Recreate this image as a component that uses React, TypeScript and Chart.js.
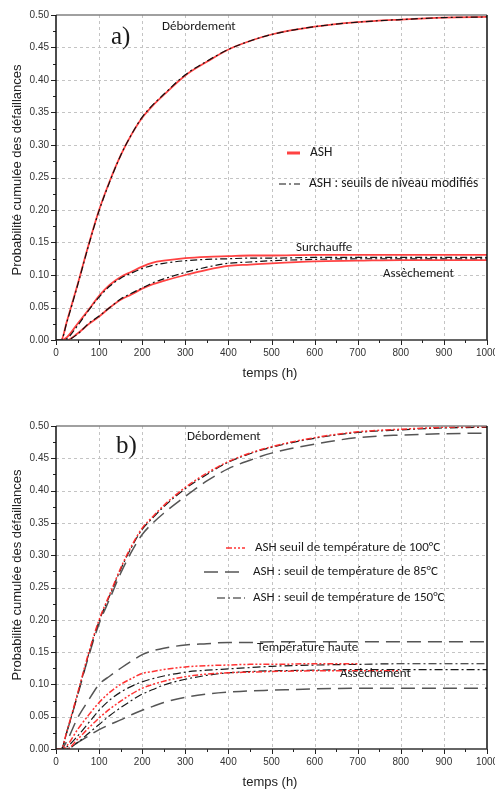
import React, { useEffect, useRef } from 'react';
import { Chart, registerables } from 'chart.js';

Chart.register(...registerables);

// ---------- DATA ----------
const TIMES = [0, 12, 25, 50, 75, 100, 125, 150, 175, 200, 225, 250, 300, 350, 400, 450, 500, 600, 700, 800, 900, 1000];

// Chart a)
const A_DEB_ASH = [0, 0, 0.028, 0.085, 0.145, 0.2, 0.245, 0.284, 0.316, 0.342, 0.361, 0.377, 0.407, 0.428, 0.447, 0.46, 0.47, 0.482, 0.489, 0.493, 0.496, 0.497];
const A_DEB_MOD = [0, 0, 0.027, 0.084, 0.144, 0.199, 0.244, 0.284, 0.316, 0.343, 0.362, 0.378, 0.408, 0.429, 0.447, 0.46, 0.47, 0.482, 0.489, 0.493, 0.496, 0.497];
const A_SUR_ASH = [0, 0, 0.004, 0.025, 0.046, 0.068, 0.085, 0.097, 0.105, 0.113, 0.119, 0.122, 0.126, 0.128, 0.129, 0.13, 0.13, 0.131, 0.131, 0.131, 0.131, 0.131];
const A_SUR_MOD = [0, 0, 0.002, 0.022, 0.045, 0.066, 0.083, 0.095, 0.103, 0.11, 0.115, 0.118, 0.122, 0.124, 0.125, 0.126, 0.126, 0.127, 0.127, 0.127, 0.127, 0.127];
const A_ASS_ASH = [0, 0, 0, 0.01, 0.024, 0.036, 0.05, 0.062, 0.07, 0.079, 0.086, 0.091, 0.1, 0.108, 0.114, 0.116, 0.118, 0.121, 0.122, 0.123, 0.123, 0.123];
const A_ASS_MOD = [0, 0, 0, 0.009, 0.025, 0.037, 0.05, 0.063, 0.072, 0.08, 0.088, 0.094, 0.104, 0.112, 0.118, 0.12, 0.122, 0.124, 0.125, 0.125, 0.125, 0.125];

// Chart b)
const B_DEB_100 = [0, 0, 0.027, 0.086, 0.147, 0.2, 0.24, 0.28, 0.314, 0.342, 0.36, 0.377, 0.405, 0.427, 0.445, 0.458, 0.468, 0.482, 0.491, 0.495, 0.498, 0.499];
const B_DEB_150 = [0, 0, 0.026, 0.084, 0.145, 0.198, 0.238, 0.278, 0.312, 0.34, 0.358, 0.375, 0.403, 0.425, 0.444, 0.457, 0.467, 0.481, 0.49, 0.494, 0.497, 0.498];
const B_DEB_85 = [0, 0, 0.026, 0.083, 0.142, 0.194, 0.233, 0.272, 0.305, 0.332, 0.35, 0.365, 0.391, 0.415, 0.434, 0.447, 0.458, 0.472, 0.482, 0.486, 0.488, 0.489];
const B_TH_85 = [0, 0, 0.012, 0.048, 0.075, 0.1, 0.113, 0.125, 0.136, 0.146, 0.152, 0.156, 0.161, 0.163, 0.165, 0.165, 0.166, 0.166, 0.166, 0.166, 0.166, 0.166];
const B_TH_100 = [0, 0, 0.005, 0.03, 0.052, 0.072, 0.088, 0.1, 0.109, 0.117, 0.12, 0.123, 0.127, 0.129, 0.13, 0.131, 0.131, 0.132, 0.132, null, null, null];
const B_TH_150 = [0, 0, 0.003, 0.02, 0.04, 0.06, 0.076, 0.088, 0.097, 0.104, 0.109, 0.113, 0.119, 0.122, 0.124, 0.126, 0.128, 0.13, 0.131, 0.132, 0.132, 0.132];
const B_ASS_100 = [0, 0, 0, 0.015, 0.032, 0.048, 0.062, 0.074, 0.085, 0.094, 0.1, 0.105, 0.112, 0.116, 0.118, 0.119, 0.12, 0.121, 0.121, 0.121, null, null];
const B_ASS_150 = [0, 0, 0, 0.01, 0.024, 0.038, 0.052, 0.064, 0.075, 0.085, 0.092, 0.099, 0.108, 0.114, 0.118, 0.12, 0.121, 0.122, 0.123, 0.123, 0.123, 0.123];
const B_ASS_85 = [0, 0, 0, 0.01, 0.02, 0.03, 0.038, 0.045, 0.053, 0.06, 0.066, 0.072, 0.08, 0.085, 0.088, 0.09, 0.091, 0.093, 0.094, 0.094, 0.094, 0.094];

const X_TITLE = 'temps (h)';
const Y_TITLE = 'Probabilité cumulée des défaillances';
const LEGEND_A = ['ASH', 'ASH : seuils de niveau modifiés'];
const LEGEND_B = ['ASH seuil de température de 100°C', 'ASH : seuil de température de 85°C', 'ASH : seuil de température de 150°C'];

// ---------- STYLES ----------
const RED_SOLID = { borderColor: 'rgba(255,45,45,0.9)', borderWidth: 1.8, borderDash: [] as number[] };
const BLACK_DASHDOT = { borderColor: '#111111', borderWidth: 1.2, borderDash: [7, 3, 2, 3] };
const RED_DDD = { borderColor: 'rgba(255,40,40,0.95)', borderWidth: 1.5, borderDash: [6, 2, 2, 2, 2, 2] };
const GRAY_LONG = { borderColor: '#555555', borderWidth: 1.5, borderDash: [14, 7] };
const BLACK_DD150 = { borderColor: '#1a1a1a', borderWidth: 1.2, borderDash: [8, 3, 2, 3] };

const ANNOT_FONT = 'Carlito, Lato, sans-serif';
const TICK_FONT = "'Liberation Sans', Arial, sans-serif";

function series(values: (number | null)[], style: any) {
  return {
    data: TIMES.map((t, i) => ({ x: t, y: values[i] })),
    ...style,
    pointRadius: 0,
    fill: false,
    cubicInterpolationMode: 'monotone',
    spanGaps: false,
  };
}

type Text = { text: string; x: number; y: number; font: string };
type LegendItem = { style: any; x1: number; x2: number; y: number; text: string; tx: number; font: string };

function decoPlugin(texts: Text[], legend: LegendItem[], yTitleY: number, xTitleY: number) {
  return {
    id: 'deco',
    beforeDatasetsDraw(chart: any) {
      const { ctx, chartArea: ca, scales } = chart;
      const xs = scales.x, ys = scales.y;
      ctx.save();
      ctx.strokeStyle = '#c4c4c4';
      ctx.lineWidth = 1;
      ctx.setLineDash([3, 3]);
      for (let t = 100; t < 1000; t += 100) {
        const x = Math.round(xs.getPixelForValue(t)) + 0.5;
        ctx.beginPath(); ctx.moveTo(x, ca.top); ctx.lineTo(x, ca.bottom); ctx.stroke();
      }
      for (let k = 1; k < 10; k++) {
        const y = Math.round(ys.getPixelForValue(k * 0.05)) + 0.5;
        ctx.beginPath(); ctx.moveTo(ca.left, y); ctx.lineTo(ca.right, y); ctx.stroke();
      }
      ctx.restore();
    },
    afterDraw(chart: any) {
      const { ctx, chartArea: ca, scales } = chart;
      const xs = scales.x, ys = scales.y;
      ctx.save();
      // ticks
      ctx.strokeStyle = '#222';
      ctx.lineWidth = 1;
      ctx.setLineDash([]);
      for (let t = 0; t <= 1000; t += 50) {
        const x = Math.round(xs.getPixelForValue(t)) + 0.5;
        const len = t % 100 === 0 ? 5 : 3;
        ctx.beginPath(); ctx.moveTo(x, ca.bottom); ctx.lineTo(x, ca.bottom + len); ctx.stroke();
      }
      for (let k = 0; k <= 20; k++) {
        const y = Math.round(ys.getPixelForValue(k * 0.025)) + 0.5;
        const len = k % 2 === 0 ? 5 : 3;
        ctx.beginPath(); ctx.moveTo(ca.left, y); ctx.lineTo(ca.left - len, y); ctx.stroke();
      }
      // borders
      ctx.lineWidth = 1.5;
      ctx.strokeStyle = '#808080';
      ctx.beginPath(); ctx.moveTo(ca.left, ca.top); ctx.lineTo(ca.right, ca.top); ctx.stroke();
      ctx.strokeStyle = '#111';
      ctx.beginPath(); ctx.moveTo(ca.right, ca.top); ctx.lineTo(ca.right, ca.bottom); ctx.stroke();
      ctx.strokeStyle = '#333';
      ctx.beginPath(); ctx.moveTo(ca.left, ca.bottom); ctx.lineTo(ca.right, ca.bottom); ctx.stroke();
      ctx.strokeStyle = '#111';
      ctx.beginPath(); ctx.moveTo(ca.left, ca.top); ctx.lineTo(ca.left, ca.bottom); ctx.stroke();

      // annotations
      ctx.fillStyle = '#1a1a1a';
      ctx.textBaseline = 'middle';
      ctx.textAlign = 'left';
      for (const t of texts) {
        ctx.font = t.font;
        ctx.fillText(t.text, t.x, t.y);
      }
      // legend
      for (const l of legend) {
        ctx.save();
        ctx.strokeStyle = l.style.borderColor;
        ctx.lineWidth = l.style.legendWidth || l.style.borderWidth;
        ctx.setLineDash(l.style.borderDash || []);
        ctx.beginPath(); ctx.moveTo(l.x1, l.y); ctx.lineTo(l.x2, l.y); ctx.stroke();
        ctx.restore();
        ctx.font = l.font;
        ctx.fillText(l.text, l.tx, l.y);
      }
      // axis titles
      ctx.fillStyle = '#222';
      ctx.textAlign = 'center';
      ctx.font = `13px ${TICK_FONT}`;
      ctx.fillText(X_TITLE, 270, xTitleY);
      ctx.save();
      ctx.translate(17, yTitleY);
      ctx.rotate(-Math.PI / 2);
      ctx.font = `13px ${TICK_FONT}`;
      ctx.fillText(Y_TITLE, 0, 0);
      ctx.restore();
      ctx.restore();
    },
  };
}

function makeOptions(topPad: number, xHeight: number) {
  return {
    responsive: false,
    animation: false,
    events: [],
    layout: { padding: { left: 0, right: 8, top: topPad, bottom: 0 } },
    plugins: { legend: { display: false }, tooltip: { enabled: false } },
    scales: {
      x: {
        type: 'linear',
        min: 0,
        max: 1000,
        grid: { color: 'rgba(0,0,0,0)', tickColor: 'rgba(0,0,0,0)', tickLength: 5, drawTicks: true },
        border: { display: false },
        ticks: {
          stepSize: 50,
          autoSkip: false,
          maxRotation: 0,
          padding: 2,
          color: '#333',
          font: { family: TICK_FONT, size: 10 },
          callback: (v: number) => (Math.round(v) % 100 === 0 ? String(Math.round(v)) : ''),
        },
        afterFit: (s: any) => {
          s.height = xHeight;
          s.paddingLeft = 0;
          s.paddingRight = 0;
        },
      },
      y: {
        type: 'linear',
        min: 0,
        max: 0.5,
        grid: { color: 'rgba(0,0,0,0)', tickColor: 'rgba(0,0,0,0)', tickLength: 5, drawTicks: true },
        border: { display: false },
        ticks: {
          stepSize: 0.025,
          autoSkip: false,
          padding: 2,
          color: '#333',
          font: { family: TICK_FONT, size: 10 },
          callback: (v: number) => (Math.round(v * 1000) % 50 === 0 ? Number(v).toFixed(2) : ''),
        },
        afterFit: (s: any) => {
          s.width = 56;
          s.paddingTop = 0;
          s.paddingBottom = 0;
        },
      },
    },
  };
}

function ChartA() {
  const ref = useRef<HTMLCanvasElement>(null);
  useEffect(() => {
    const datasets = [
      series(A_DEB_MOD, BLACK_DASHDOT),
      series(A_SUR_MOD, BLACK_DASHDOT),
      series(A_ASS_MOD, BLACK_DASHDOT),
      series(A_DEB_ASH, RED_SOLID),
      series(A_SUR_ASH, RED_SOLID),
      series(A_ASS_ASH, RED_SOLID),
    ];
    const texts: Text[] = [
      { text: 'a)', x: 111, y: 37, font: "25px 'Liberation Serif', 'Times New Roman', serif" },
      { text: 'Débordement', x: 162, y: 27, font: `13px ${ANNOT_FONT}` },
      { text: 'Surchauffe', x: 296, y: 248, font: `13px ${ANNOT_FONT}` },
      { text: 'Assèchement', x: 383, y: 274, font: `13px ${ANNOT_FONT}` },
    ];
    const legend: LegendItem[] = [
      { style: { ...RED_SOLID, legendWidth: 3 }, x1: 287, x2: 300, y: 153, text: LEGEND_A[0], tx: 310, font: `13.5px ${ANNOT_FONT}` },
      { style: BLACK_DASHDOT, x1: 279, x2: 300, y: 184, text: LEGEND_A[1], tx: 309, font: `13.5px ${ANNOT_FONT}` },
    ];
    const chart = new Chart(ref.current as HTMLCanvasElement, {
      type: 'line',
      data: { datasets } as any,
      options: makeOptions(15, 55) as any,
      plugins: [decoPlugin(texts, legend, 170, 373)],
    });
    return () => chart.destroy();
  }, []);
  return <canvas ref={ref} width={495} height={395} style={{ display: 'block' }} />;
}

function ChartB() {
  const ref = useRef<HTMLCanvasElement>(null);
  useEffect(() => {
    const datasets = [
      series(B_DEB_100, RED_DDD),
      series(B_TH_100, RED_DDD),
      series(B_ASS_100, RED_DDD),
      series(B_DEB_150, BLACK_DD150),
      series(B_TH_150, BLACK_DD150),
      series(B_ASS_150, BLACK_DD150),
      series(B_DEB_85, GRAY_LONG),
      series(B_TH_85, GRAY_LONG),
      series(B_ASS_85, GRAY_LONG),
    ];
    const texts: Text[] = [
      { text: 'b)', x: 116, y: 51, font: "25px 'Liberation Serif', 'Times New Roman', serif" },
      { text: 'Débordement', x: 187, y: 42, font: `13px ${ANNOT_FONT}` },
      { text: 'Température haute', x: 257, y: 253, font: `13px ${ANNOT_FONT}` },
      { text: 'Assèchement', x: 340, y: 279, font: `13px ${ANNOT_FONT}` },
    ];
    const legend: LegendItem[] = [
      { style: RED_DDD, x1: 226, x2: 245, y: 153, text: LEGEND_B[0], tx: 255, font: `13px ${ANNOT_FONT}` },
      { style: GRAY_LONG, x1: 204, x2: 243, y: 177, text: LEGEND_B[1], tx: 253, font: `13px ${ANNOT_FONT}` },
      { style: BLACK_DD150, x1: 217, x2: 245, y: 203, text: LEGEND_B[2], tx: 253, font: `13px ${ANNOT_FONT}` },
    ];
    const chart = new Chart(ref.current as HTMLCanvasElement, {
      type: 'line',
      data: { datasets } as any,
      options: makeOptions(31, 41) as any,
      plugins: [decoPlugin(texts, legend, 180, 387)],
    });
    return () => chart.destroy();
  }, []);
  return <canvas ref={ref} width={495} height={395} style={{ display: 'block' }} />;
}

export default function App() {
  return (
    <div style={{ position: 'absolute', left: 0, top: 0, width: 495, height: 790, background: '#fff', overflow: 'hidden' }}>
      <ChartA />
      <ChartB />
    </div>
  );
}
